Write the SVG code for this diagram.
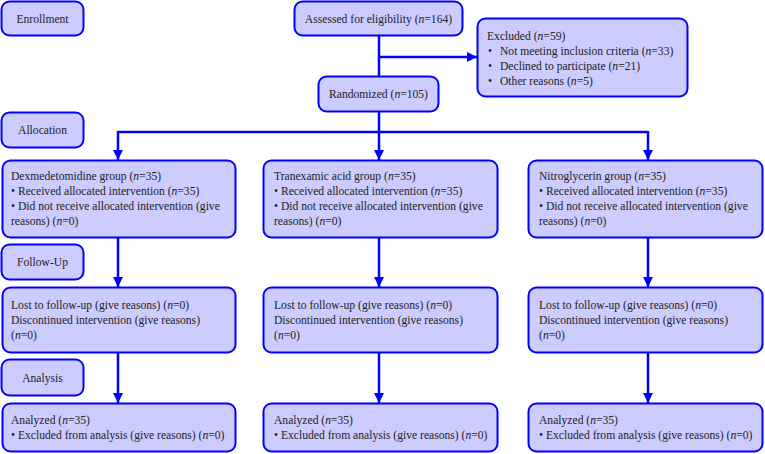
<svg xmlns="http://www.w3.org/2000/svg" width="765" height="454" viewBox="0 0 765 454" font-family="Liberation Serif, DejaVu Serif, serif">
<defs>
<marker id="ah" viewBox="0 0 10 10" refX="10" refY="5" markerWidth="4" markerHeight="4" orient="auto" markerUnits="strokeWidth">
<path d="M0,0 L10,5 L0,10 z" fill="#0000ff"/>
</marker>
<style>
.box{fill:#ccccff;stroke:#0000ff;stroke-width:2}
.t{font-family:'Liberation Serif','DejaVu Serif',serif;font-size:11.6px;fill:#222}
.c{text-anchor:middle}
.i{font-style:italic}
.ln{fill:none;stroke:#0000ff;stroke-width:2.5}
</style>
</defs>
<rect width="765" height="454" fill="#fff"/>
<g id="enrollment"><rect class="box" x="1.5" y="1.5" width="82" height="34" rx="8"/><text class="t c" x="42.5" y="22.5">Enrollment</text></g>
<g id="allocation"><rect class="box" x="1.5" y="112.5" width="82" height="35" rx="8"/><text class="t c" x="42.5" y="134">Allocation</text></g>
<g id="followup"><rect class="box" x="1.5" y="244.5" width="82" height="35" rx="8"/><text class="t c" x="42.5" y="266">Follow-Up</text></g>
<g id="analysis"><rect class="box" x="1.5" y="359.5" width="82" height="36" rx="8"/><text class="t c" x="42.5" y="381.5">Analysis</text></g>
<g id="assessed"><rect class="box" x="294.5" y="1.5" width="168" height="34" rx="8"/><text class="t c" x="378.5" y="22.5">Assessed for eligibility (<tspan class="i">n</tspan>=164)</text></g>
<g id="excluded"><rect class="box" x="477.5" y="18.5" width="210" height="78" rx="8"/>
<text class="t" x="487" y="40">Excluded (<tspan class="i">n</tspan>=59)</text>
<text class="t" x="488" y="55">•</text><text class="t" x="500" y="55">Not meeting inclusion criteria (<tspan class="i">n</tspan>=33)</text>
<text class="t" x="488" y="70">•</text><text class="t" x="500" y="70">Declined to participate (<tspan class="i">n</tspan>=21)</text>
<text class="t" x="488" y="85">•</text><text class="t" x="500" y="85">Other reasons (<tspan class="i">n</tspan>=5)</text>
</g>
<g id="randomized"><rect class="box" x="318.5" y="76.5" width="120" height="35" rx="8"/><text class="t c" x="378.5" y="98">Randomized (<tspan class="i">n</tspan>=105)</text></g>
<g id="group1"><rect class="box" x="2.5" y="160.5" width="233" height="77" rx="8"/>
<text class="t" x="11" y="180">Dexmedetomidine group (<tspan class="i">n</tspan>=35)</text>
<text class="t" x="11" y="195">• Received allocated intervention (<tspan class="i">n</tspan>=35)</text>
<text class="t" x="11" y="210">• Did not receive allocated intervention (give</text>
<text class="t" x="11" y="225">reasons) (<tspan class="i">n</tspan>=0)</text></g>
<g id="group2"><rect class="box" x="263.5" y="160.5" width="234" height="77" rx="8"/>
<text class="t" x="274" y="180">Tranexamic acid group (<tspan class="i">n</tspan>=35)</text>
<text class="t" x="274" y="195">• Received allocated intervention (<tspan class="i">n</tspan>=35)</text>
<text class="t" x="274" y="210">• Did not receive allocated intervention (give</text>
<text class="t" x="274" y="225">reasons) (<tspan class="i">n</tspan>=0)</text></g>
<g id="group3"><rect class="box" x="528.5" y="160.5" width="234" height="77" rx="8"/>
<text class="t" x="539" y="180">Nitroglycerin group (<tspan class="i">n</tspan>=35)</text>
<text class="t" x="539" y="195">• Received allocated intervention (<tspan class="i">n</tspan>=35)</text>
<text class="t" x="539" y="210">• Did not receive allocated intervention (give</text>
<text class="t" x="539" y="225">reasons) (<tspan class="i">n</tspan>=0)</text></g>
<g id="lost1"><rect class="box" x="2.5" y="287.5" width="233" height="65" rx="8"/>
<text class="t" x="11" y="309">Lost to follow-up (give reasons) (<tspan class="i">n</tspan>=0)</text>
<text class="t" x="11" y="324">Discontinued intervention (give reasons)</text>
<text class="t" x="11" y="339">(<tspan class="i">n</tspan>=0)</text></g>
<g id="lost2"><rect class="box" x="263.5" y="287.5" width="234" height="65" rx="8"/>
<text class="t" x="274" y="309">Lost to follow-up (give reasons) (<tspan class="i">n</tspan>=0)</text>
<text class="t" x="274" y="324">Discontinued intervention (give reasons)</text>
<text class="t" x="274" y="339">(<tspan class="i">n</tspan>=0)</text></g>
<g id="lost3"><rect class="box" x="528.5" y="287.5" width="234" height="65" rx="8"/>
<text class="t" x="539" y="309">Lost to follow-up (give reasons) (<tspan class="i">n</tspan>=0)</text>
<text class="t" x="539" y="324">Discontinued intervention (give reasons)</text>
<text class="t" x="539" y="339">(<tspan class="i">n</tspan>=0)</text></g>
<g id="analyzed1"><rect class="box" x="2.5" y="403.5" width="233" height="48" rx="8"/>
<text class="t" x="11" y="424">Analyzed (<tspan class="i">n</tspan>=35)</text>
<text class="t" x="11" y="439">• Excluded from analysis (give reasons) (<tspan class="i">n</tspan>=0)</text></g>
<g id="analyzed2"><rect class="box" x="263.5" y="403.5" width="234" height="48" rx="8"/>
<text class="t" x="274" y="424">Analyzed (<tspan class="i">n</tspan>=35)</text>
<text class="t" x="274" y="439">• Excluded from analysis (give reasons) (<tspan class="i">n</tspan>=0)</text></g>
<g id="analyzed3"><rect class="box" x="528.5" y="403.5" width="234" height="48" rx="8"/>
<text class="t" x="539" y="424">Analyzed (<tspan class="i">n</tspan>=35)</text>
<text class="t" x="539" y="439">• Excluded from analysis (give reasons) (<tspan class="i">n</tspan>=0)</text></g>
<g id="connectors">
<path class="ln" d="M379,36 V76"/>
<path class="ln" d="M379,57 H477" marker-end="url(#ah)"/>
<path class="ln" d="M379,112 V132"/>
<path class="ln" d="M118,132 H648"/>
<path class="ln" d="M118,131 V160" marker-end="url(#ah)"/>
<path class="ln" d="M379,132 V160" marker-end="url(#ah)"/>
<path class="ln" d="M648,131 V160" marker-end="url(#ah)"/>
<path class="ln" d="M118,238 V287" marker-end="url(#ah)"/>
<path class="ln" d="M379,238 V287" marker-end="url(#ah)"/>
<path class="ln" d="M648,238 V287" marker-end="url(#ah)"/>
<path class="ln" d="M118,353 V403" marker-end="url(#ah)"/>
<path class="ln" d="M379,353 V403" marker-end="url(#ah)"/>
<path class="ln" d="M648,353 V403" marker-end="url(#ah)"/>
</g>
</svg>
